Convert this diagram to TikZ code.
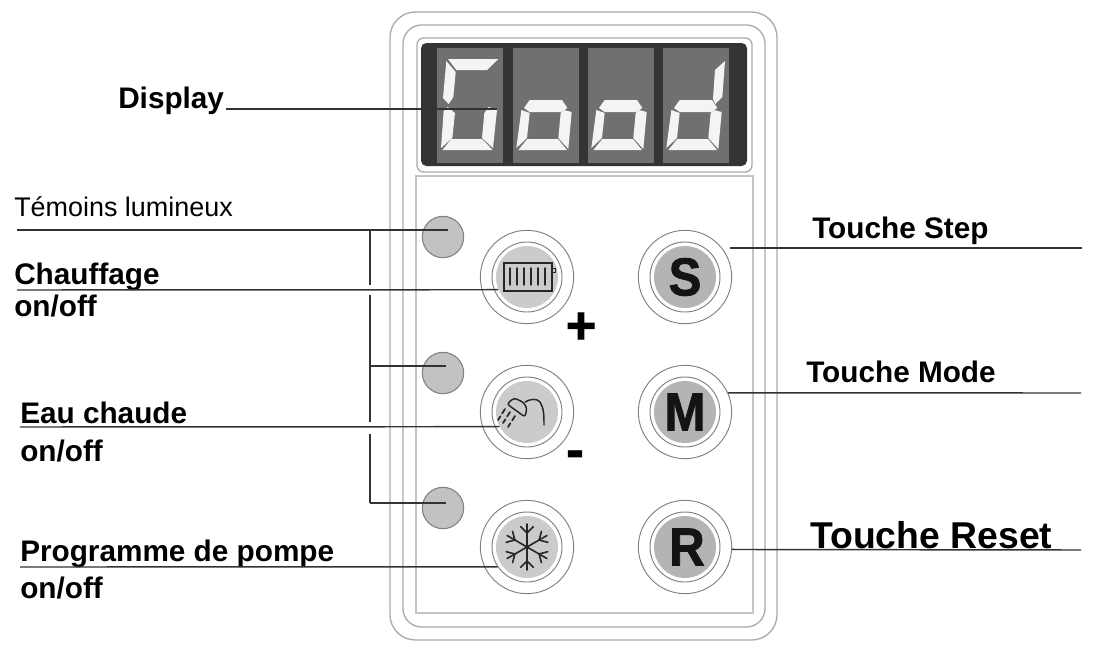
\documentclass[tikz,border=0pt]{standalone}
\usepackage{fontspec}
\setmainfont{Liberation Sans}
\newfontface\heavyface{Liberation Sans Bold}[FakeBold=1.6]
\usetikzlibrary{positioning}
\definecolor{framegray}{HTML}{ABABAB}
\definecolor{ringgray}{HTML}{808080}
\definecolor{ledgray}{HTML}{C2C2C2}
\definecolor{facegray}{HTML}{CBCBCB}
\definecolor{keygray}{HTML}{B4B4B4}
\definecolor{dispdark}{HTML}{343434}
\definecolor{panelgray}{HTML}{707070}
\definecolor{seggray}{HTML}{F4F4F4}
\tikzset{
  lab/.style={anchor=base west,font=\fontsize{22.3}{26}\selectfont\bfseries},
  lead/.style={draw=black!80,line width=1.1pt},
  frameline/.style={draw=framegray,line width=1pt,rounded corners=19pt},
  led/.style={circle,draw=ringgray,fill=ledgray,line width=.8pt,minimum size=31pt},
  ringout/.style={circle,draw=ringgray,fill=white,line width=.7pt,minimum size=70pt},
  ringmid/.style={circle,draw=ringgray,fill=white,line width=.7pt,minimum size=52.5pt},
  face/.style={circle,fill=facegray,minimum size=46.5pt},
  keyface/.style={circle,fill=keygray,minimum size=46.5pt},
  keyletter/.style={font=\fontsize{40}{40}\heavyface,text=black!92,xscale=.92,transform shape},
  signs/.style={font=\fontsize{39}{39}\heavyface,text=black},
  icon/.style={draw=black!85,line width=1.1pt,line cap=round},
  seg/.style={fill=seggray}
}
% one key: outer ring, middle ring, grey face
\newcommand{\keyrings}[3]{%
  \node[ringout] (#1_out) at (#2) {};
  \node[ringmid] (#1_mid) at (#2) {};
  \node[#3] (#1) at (#2) {};
}
\begin{document}
\begin{tikzpicture}
   [x=0.75pt,y=-0.75pt,every node/.style={draw=none,inner sep=0pt}]

\useasboundingbox (0,0) rectangle (1095,651);
\fill[white] (0,0) rectangle (1095,651);

%%%%%%%%%%%%%%%%%%%%%%%%%%%%%%%%%%%%%%%%%%%%%%%%%%%%%%%%%%%%%%%
% Housing
%%%%%%%%%%%%%%%%%%%%%%%%%%%%%%%%%%%%%%%%%%%%%%%%%%%%%%%%%%%%%%%
\draw[frameline] (390,12) rectangle (777,640);
\draw[frameline,rounded corners=14pt] (403,25) rectangle (765,627);
\draw[frameline,rounded corners=0pt,draw=framegray!70] (416,176) rectangle (753,613);

%%%%%%%%%%%%%%%%%%%%%%%%%%%%%%%%%%%%%%%%%%%%%%%%%%%%%%%%%%%%%%%
% Display
%%%%%%%%%%%%%%%%%%%%%%%%%%%%%%%%%%%%%%%%%%%%%%%%%%%%%%%%%%%%%%%
\draw[frameline,fill=white,rounded corners=5pt] (417,38) rectangle (752,172);
\fill[dispdark,rounded corners=4pt] (421,43) rectangle (747,166);
\foreach \px in {437,513,588,663}
	\fill[panelgray] (\px,48) rectangle ++(66,115);

% Segments, digit by digit
\begin{scope}[shift={(437,0)},x=0.25pt]
	\fill[seg] (33,59) -- (184,59) -- (150,70) -- (58,70) -- cycle;
	\fill[seg] (28,61) -- (56,72) -- (49,97) -- (35,104) -- (18,98) -- cycle;
	\fill[seg] (20,111) -- (32,107) -- (54,113) -- (46,138) -- (12,148) -- cycle;
	\fill[seg] (155,107) -- (180,110) -- (168,148) -- (135,138) -- (142,113) -- cycle;
	\fill[seg] (16,150) -- (43,139) -- (135,139) -- (167,150) -- cycle;
\end{scope}
\foreach \px in {513,588}{
\begin{scope}[shift={(\px,0)},x=0.25pt]
	\fill[seg] (33,108) -- (50,100) -- (147,100) -- (163,108) -- (144,112) -- (50,112) -- cycle;
	\fill[seg] (25,110) -- (50,113) -- (42,138) -- (10,148) -- cycle;
	\fill[seg] (153,110) -- (176,112) -- (166,149) -- (136,138) -- (143,113) -- cycle;
	\fill[seg] (16,150) -- (43,139) -- (135,139) -- (162,150) -- cycle;
\end{scope}
}
\begin{scope}[shift={(663,0)},x=0.25pt]
	\fill[seg] (186,61) -- (178,97) -- (157,104) -- (150,99) -- (156,70) -- cycle;
	\fill[seg] (33,108) -- (50,100) -- (147,100) -- (163,108) -- (144,112) -- (50,112) -- cycle;
	\fill[seg] (25,110) -- (50,113) -- (42,138) -- (10,148) -- cycle;
	\fill[seg] (153,110) -- (176,112) -- (166,149) -- (136,138) -- (143,113) -- cycle;
	\fill[seg] (16,150) -- (43,139) -- (135,139) -- (162,150) -- cycle;
\end{scope}

%%%%%%%%%%%%%%%%%%%%%%%%%%%%%%%%%%%%%%%%%%%%%%%%%%%%%%%%%%%%%%%
% Lamps and keys
%%%%%%%%%%%%%%%%%%%%%%%%%%%%%%%%%%%%%%%%%%%%%%%%%%%%%%%%%%%%%%%
\node[led] (led1) at (443,237) {};
\node[led] (led2) at (443,373) {};
\node[led] (led3) at (443,508) {};

\keyrings{chauf}{527,277}{face}
\keyrings{eau}{527,412}{face}
\keyrings{pompe}{527,547}{face}
\keyrings{step}{685,277}{keyface}
\keyrings{mode}{685,412}{keyface}
\keyrings{reset}{685,547}{keyface}

\node[keyletter] (let_s) at (685,277) {S};
\node[keyletter] (let_m) at (685,412) {M};
\node[keyletter] (let_r) at (687,547) {R};

\node[signs] (plus) at (581,328) {+};
\node[signs] (minus) at (575,459) {-};

% Radiator
\draw[icon] (504,263) rectangle (552,291);
\draw[icon,line width=.7pt] (551,268) rectangle (555,272);
\foreach \bx in {510,517,524,531,538,545}
	\draw[icon] (\bx,268) -- (\bx,285);

% Shower
\draw[icon,rounded corners=2pt] (507,404) -- (514,398) -- (523,402) -- (527,408) -- (525,417) -- cycle;
\draw[icon] (525,402) .. controls (530,399) and (537,398) .. (540,402) .. controls (544,408) and (544,416) .. (544,425);
\foreach \sa/\sb in {505/409,510/412,515/416}
	\draw[icon,line width=1.3pt,dash pattern=on 4pt off 2.5pt] (\sa,\sb) -- ++(-7,11);

% Snowflake
\foreach \ang in {30,90,...,330}{
	\draw[icon,line width=1.2pt] (pompe.center) -- ++(\ang:23);
	\draw[icon,line width=1.2pt] (pompe.center) ++(\ang:14) -- ++(\ang+45:9);
	\draw[icon,line width=1.2pt] (pompe.center) ++(\ang:14) -- ++(\ang-45:9);
}

%%%%%%%%%%%%%%%%%%%%%%%%%%%%%%%%%%%%%%%%%%%%%%%%%%%%%%%%%%%%%%%
% Labels
%%%%%%%%%%%%%%%%%%%%%%%%%%%%%%%%%%%%%%%%%%%%%%%%%%%%%%%%%%%%%%%
\node[lab] (lab_disp) at (118,108) {Display};
\node[lab,font=\fontsize{20.2}{24}\selectfont] (lab_temo) at (14,216) {Témoins lumineux};
\node[lab] (lab_chauf) at (14,284) {Chauffage};
\node[lab] (lab_chauf2) at (14,316) {on/off};
\node[lab] (lab_eau) at (20,423) {Eau chaude};
\node[lab] (lab_eau2) at (20,461) {on/off};
\node[lab] (lab_pompe) at (20,561) {Programme de pompe};
\node[lab] (lab_pompe2) at (20,598) {on/off};
\node[lab] (lab_step) at (812,238) {Touche Step};
\node[lab] (lab_mode) at (806,382) {Touche Mode};
\node[lab,font=\fontsize{28}{32}\selectfont\bfseries] (lab_reset) at (810,548) {Touche Reset};

%%%%%%%%%%%%%%%%%%%%%%%%%%%%%%%%%%%%%%%%%%%%%%%%%%%%%%%%%%%%%%%
% Leader lines
%%%%%%%%%%%%%%%%%%%%%%%%%%%%%%%%%%%%%%%%%%%%%%%%%%%%%%%%%%%%%%%
\coordinate (disp_a) at (226,109);
\coordinate (disp_b) at (497,109);
\coordinate (temo_a) at (17,230);
\coordinate (led1_in) at (448,230);
\coordinate (bus1) at (370,230);
\coordinate (gap1a) at (370,285);
\coordinate (gap1b) at (370,295);
\coordinate (bus2) at (370,366);
\coordinate (led2_in) at (446,366);
\coordinate (gap2a) at (370,422);
\coordinate (gap2b) at (370,434);
\coordinate (bus3) at (370,503);
\coordinate (led3_in) at (446,503);
\coordinate (chauf_a) at (17,290);
\coordinate (eau_a) at (20,427);
\coordinate (pompe_a) at (20,567);
\coordinate (step_a) at (730,248);
\coordinate (step_b) at (1082,248);
\coordinate (mode_b) at (1081,393);
\coordinate (reset_b) at (1081,550);

\draw[lead] (disp_a) -- (disp_b);
\draw[lead] (temo_a) -- (led1_in);
\draw[lead] (bus1) -- (gap1a);
\draw[lead] (gap1b) -- (gap2a);
\draw[lead] (gap2b) -- (bus3);
\draw[lead] (bus2) -- (led2_in);
\draw[lead] (bus3) -- (led3_in);
\draw[lead] (chauf_a) -- (chauf.204.8);
\draw[lead] (eau_a) -- (eau.208.9);
\draw[lead] (pompe_a) -- (pompe_mid.214.8);
\draw[lead] (step_a) -- (step_b);
\draw[lead] (mode_out.24) -- (mode_b);
\draw[lead] (reset_out.-3.7) -- (reset_b);

\end{tikzpicture}
\end{document}
